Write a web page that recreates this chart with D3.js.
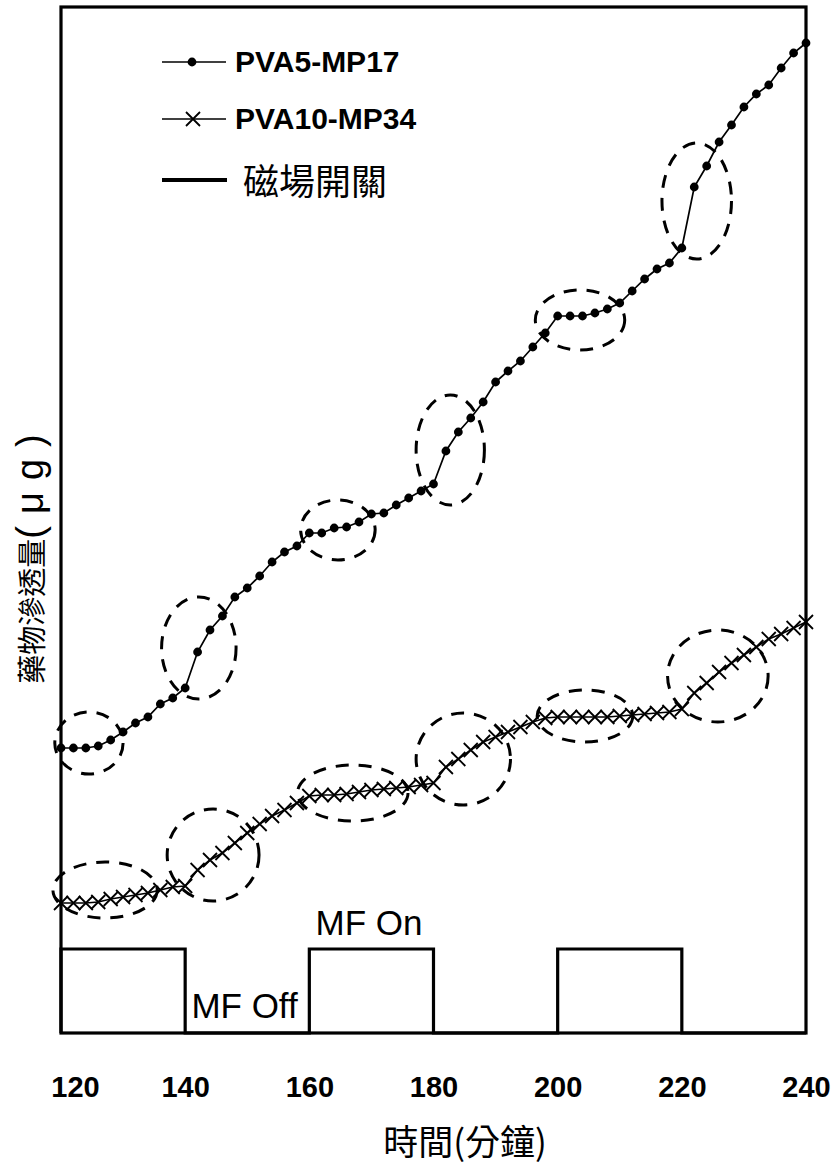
<!DOCTYPE html>
<html>
<head>
<meta charset="utf-8">
<script src="https://cdnjs.cloudflare.com/ajax/libs/d3/7.8.5/d3.min.js"></script>
<style>
  html, body { margin: 0; padding: 0; background: #fff; }
  svg { display: block; }
</style>
</head>
<body>
<svg id="chart" width="837" height="1169"></svg>
<script>
// Sampling times (minutes), one reading every 2 minutes
const minutes = d3.range(120, 241, 2);

// Cumulative drug permeation, PVA5-MP17 (dots)
const pva5 = [
  28.5, 28.5, 28.5, 28.7, 29.3, 30.1, 31.0, 31.6, 32.9, 33.5,
  34.5, 38.1, 40.3, 41.7, 43.6, 44.5, 45.7, 47.1, 48.1, 48.7,
  50.0, 50.0, 50.5, 50.6, 51.1, 51.9, 52.0, 52.8, 53.5, 54.2,
  54.9, 58.2, 60.1, 61.5, 63.1, 65.1, 66.2, 67.2, 68.6, 70.0,
  71.7, 71.7, 71.7, 72.0, 72.4, 73.0, 74.2, 75.4, 76.4, 77.0,
  78.5, 84.6, 86.7, 89.1, 90.8, 92.6, 93.9, 94.8, 96.5, 98.0,
  99.0
];

// Cumulative drug permeation, PVA10-MP34 (crosses)
const pva10 = [
  13.0, 13.0, 13.0, 13.1, 13.4, 13.6, 13.8, 14.0, 14.3, 14.6,
  14.7, 16.3, 17.3, 18.0, 19.0, 20.0, 20.9, 21.7, 22.3, 23.0,
  23.7, 23.8, 23.8, 23.9, 24.1, 24.3, 24.4, 24.5, 24.6, 24.8,
  25.0, 26.6, 27.4, 28.3, 29.1, 29.6, 30.1, 30.6, 31.1, 31.5,
  31.6, 31.6, 31.6, 31.6, 31.6, 31.7, 31.8, 31.9, 32.0, 32.1,
  32.4, 34.0, 35.0, 36.1, 37.0, 37.8, 38.6, 39.4, 39.9, 40.5,
  41.1
];

// Magnetic field switching: intervals with the field on
const mfOnStart = [120, 160, 200];
const mfOnEnd   = [140, 180, 220];
const mfLevel = 8.4;

// Highlighted response regions: centre (min, value) and half-extent (min, value)
const ringMin  = [124.5, 142.2, 164.6, 182.7, 203.6, 222.4, 127.1, 144.5, 167.0, 184.8, 204.4, 225.8];
const ringVal  = [29.0, 38.5, 50.3, 58.3, 71.3, 83.2, 14.3, 17.8, 24.0, 27.4, 31.7, 35.7];
const ringRMin = [5.5, 6.0, 6.0, 5.5, 7.2, 5.6, 8.4, 7.4, 8.9, 7.6, 7.7, 8.1];
const ringRVal = [3.1, 5.1, 3.0, 5.5, 3.0, 5.8, 2.8, 4.6, 2.8, 4.6, 2.6, 4.6];

const xTicks = [120, 140, 160, 180, 200, 220, 240];
const seriesNames = ["PVA5-MP17", "PVA10-MP34", "磁場開關"];
const xTitle = "時間(分鐘)";
const yTitleMain = "藥物滲透量";
const yTitleUnit = "(μg)";

const svg = d3.select("#chart");
const plotL = 61, plotR = 806, plotT = 7, plotB = 1033;

const x = d3.scaleLinear().domain([120, 240]).range([plotL, plotR]);
const y = d3.scaleLinear().domain([0, 102.6]).range([plotB, plotT]);

// Dashed ellipses
svg.append("g").selectAll("ellipse")
  .data(ringMin.map((m, i) => ({ m, v: ringVal[i], rm: ringRMin[i], rv: ringRVal[i] })))
  .join("ellipse")
  .attr("cx", d => x(d.m))
  .attr("cy", d => y(d.v))
  .attr("rx", d => x(120 + d.rm) - x(120))
  .attr("ry", d => y(0) - y(d.rv))
  .attr("fill", "none")
  .attr("stroke", "#000")
  .attr("stroke-width", 3)
  .attr("stroke-dasharray", "13,10");

const line = d3.line().x(d => x(d[0])).y(d => y(d[1]));

const s1 = minutes.map((m, i) => [m, pva5[i]]);
const s2 = minutes.map((m, i) => [m, pva10[i]]);

// PVA10-MP34 line and crosses
svg.append("path").datum(s2).attr("d", line)
  .attr("fill", "none").attr("stroke", "#000").attr("stroke-width", 1.7);
const cross = 7;
const crossPath = (cx, cy) =>
  `M${cx - cross},${cy - cross}L${cx + cross},${cy + cross}M${cx - cross},${cy + cross}L${cx + cross},${cy - cross}`;
svg.append("g").selectAll("path")
  .data(s2).join("path")
  .attr("d", d => crossPath(x(d[0]), y(d[1])))
  .attr("stroke", "#000").attr("stroke-width", 1.8).attr("fill", "none");

// PVA5-MP17 line and dots
svg.append("path").datum(s1).attr("d", line)
  .attr("fill", "none").attr("stroke", "#000").attr("stroke-width", 1.7);
svg.append("g").selectAll("circle")
  .data(s1).join("circle")
  .attr("cx", d => x(d[0])).attr("cy", d => y(d[1]))
  .attr("r", 4.4).attr("fill", "#000");

// Magnetic field on/off trace
const mfPts = [];
mfOnStart.forEach((s, i) => {
  mfPts.push([s, 0], [s, mfLevel], [mfOnEnd[i], mfLevel], [mfOnEnd[i], 0]);
});
mfPts.push([240, 0]);
svg.append("path").datum(mfPts).attr("d", line)
  .attr("fill", "none").attr("stroke", "#000").attr("stroke-width", 3.2)
  .attr("stroke-linejoin", "miter");

// Plot frame
svg.append("rect")
  .attr("x", plotL).attr("y", plotT)
  .attr("width", plotR - plotL).attr("height", plotB - plotT)
  .attr("fill", "none").attr("stroke", "#000").attr("stroke-width", 3.2);

// MF labels
svg.append("text").attr("x", x(161)).attr("y", y(9.8))
  .attr("font-family", "Liberation Sans, Arial, sans-serif").attr("font-size", 35)
  .text("MF On");
svg.append("text").attr("x", x(141)).attr("y", y(1.5))
  .attr("font-family", "Liberation Sans, Arial, sans-serif").attr("font-size", 35)
  .text("MF Off");

// X axis tick labels
const xAxis = d3.axisBottom(x).tickValues(xTicks).tickSize(0).tickPadding(0);
const gx = svg.append("g").attr("transform", `translate(0,${plotB})`).call(xAxis);
gx.select(".domain").remove();
gx.selectAll("text")
  .attr("font-family", "Liberation Sans, Arial, sans-serif")
  .attr("font-size", 29).attr("font-weight", "bold")
  .attr("fill", "#000")
  .attr("dy", 0).attr("y", 64)
  .attr("dx", d => d === 120 ? 14 : 0);

// Axis titles
svg.append("text").attr("x", 465).attr("y", 1155)
  .attr("text-anchor", "middle")
  .attr("font-family", "Noto Sans CJK TC, sans-serif").attr("font-size", 35)
  .text(xTitle);
const yt = svg.append("text")
  .attr("transform", "translate(43,553) rotate(-90)")
  .attr("text-anchor", "middle")
  .attr("font-family", "Noto Sans CJK TC, sans-serif").attr("font-size", 29);
yt.append("tspan").text(yTitleMain);
yt.append("tspan").attr("letter-spacing", 12)
  .attr("font-family", "Liberation Sans, Arial, sans-serif").attr("font-size", 38)
  .text(yTitleUnit);

// Legend
const lg = svg.append("g");
const legendFont = "Liberation Sans, Arial, sans-serif";
lg.append("line").attr("x1", 162).attr("x2", 226).attr("y1", 62).attr("y2", 62)
  .attr("stroke", "#000").attr("stroke-width", 1.7);
lg.append("circle").attr("cx", 192).attr("cy", 62).attr("r", 4.4).attr("fill", "#000");
lg.append("text").attr("x", 235).attr("y", 72)
  .attr("font-family", legendFont).attr("font-size", 30).attr("font-weight", "bold")
  .text(seriesNames[0]);

lg.append("line").attr("x1", 162).attr("x2", 226).attr("y1", 119).attr("y2", 119)
  .attr("stroke", "#000").attr("stroke-width", 1.7);
lg.append("path").attr("d", crossPath(193, 119))
  .attr("stroke", "#000").attr("stroke-width", 1.8);
lg.append("text").attr("x", 235).attr("y", 129)
  .attr("font-family", legendFont).attr("font-size", 30).attr("font-weight", "bold")
  .text(seriesNames[1]);

lg.append("line").attr("x1", 162).attr("x2", 227).attr("y1", 180).attr("y2", 180)
  .attr("stroke", "#000").attr("stroke-width", 4);
lg.append("text").attr("x", 243).attr("y", 195)
  .attr("font-family", "Noto Sans CJK TC, sans-serif").attr("font-size", 36)
  .text(seriesNames[2]);
</script>
</body>
</html>
